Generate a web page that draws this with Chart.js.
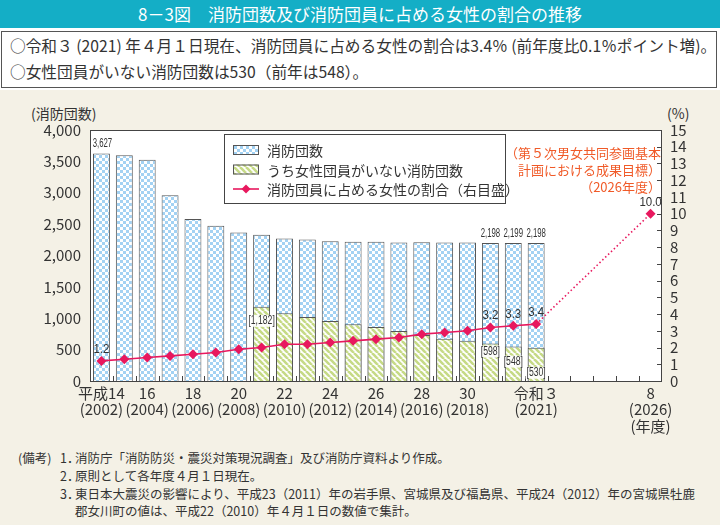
<!DOCTYPE html>
<html>
<head>
<meta charset="utf-8">
<script src="https://cdn.jsdelivr.net/npm/chart.js@4.4.1/dist/chart.umd.min.js"></script>
<style>
  body { margin:0; width:720px; height:525px; position:relative; overflow:hidden; background:#fff;
         font-family:"Noto Sans CJK JP","Noto Sans",sans-serif; color:#333; }
  #title { position:absolute; left:0; top:0; width:720px; height:28px; background:#14aec6; color:#fff;
           font-size:17px; line-height:28px; text-align:center; }
  #summary { position:absolute; left:1px; top:31px; width:716px; height:57px; background:#fff;
             border:1px solid #555; font-size:15.7px; line-height:26px; box-sizing:border-box; padding:1px 0 0 8px; white-space:nowrap; }
  #beige { position:absolute; left:0; top:90px; width:720px; height:435px; background:#f4f1e6; }
  #chartWrap { position:absolute; left:0; top:95px; width:720px; height:350px; }
  .axisTitle { position:absolute; font-size:14px; color:#333; }
  .note { position:absolute; font-size:12.5px; color:#333; white-space:nowrap; }
</style>
</head>
<body>
<div id="title">8－3図　消防団数及び消防団員に占める女性の割合の推移</div>
<div id="summary">○令和３ (2021) 年４月１日現在、消防団員に占める女性の割合は3.4％ (前年度比0.1％ポイント増)。<br>○女性団員がいない消防団数は530（前年は548）。</div>
<div id="beige"></div>
<div class="axisTitle" style="left:31px;top:103px;">(消防団数)</div>
<div class="axisTitle" style="left:667px;top:103px;">(%)</div>
<div id="chartWrap"><canvas id="chart" width="720" height="350"></canvas></div>
<div class="note" style="left:18px;top:448px;">(備考)</div>
<div class="note" style="left:60px;top:448px;">1．</div>
<div class="note" style="left:75px;top:448px;">消防庁「消防防災・震災対策現況調査」及び消防庁資料より作成。</div>
<div class="note" style="left:60px;top:466px;">2．</div>
<div class="note" style="left:75px;top:466px;">原則として各年度４月１日現在。</div>
<div class="note" style="left:60px;top:484px;">3．</div>
<div class="note" style="left:75px;top:484px;">東日本大震災の影響により、平成23（2011）年の岩手県、宮城県及び福島県、平成24（2012）年の宮城県牡鹿</div>
<div class="note" style="left:75px;top:501px;">郡女川町の値は、平成22（2010）年４月１日の数値で集計。</div>

<script>
// data
const years = ["2002","2003","2004","2005","2006","2007","2008","2009","2010","2011","2012","2013",
  "2014","2015","2016","2017","2018","2019","2020","2021","2022","2023","2024","2025","2026"];
const tickLabels = [["平成14","(2002)"], "", ["16","(2004)"], "", ["18","(2006)"], "", ["20","(2008)"], "",
  ["22","(2010)"], "", ["24","(2012)"], "", ["26","(2014)"], "", ["28","(2016)"], "", ["30","(2018)"], "", "",
  ["令和３","(2021)"], "", "", "", "", ["8","(2026)","(年度)"]];
const fireUnits = [3627, 3598, 3525, 2960, 2580, 2475, 2365, 2330, 2270, 2255, 2228, 2218,
  2221, 2208, 2211, 2209, 2209, 2198, 2199, 2198, null, null, null, null, null];
const noWomenUnits = [null, null, null, null, null, null, null, 1182, 1080, 1020, 955, 905,
  860, 795, 735, 675, 640, 598, 548, 530, null, null, null, null, null];
const womenRate = [1.2, 1.3, 1.4, 1.5, 1.6, 1.7, 1.9, 2.0, 2.2, 2.2, 2.3, 2.4,
  2.5, 2.6, 2.8, 2.9, 3.0, 3.2, 3.3, 3.4, null, null, null, null, 10.0];
const unitLabelIdx = [0, 17, 18, 19];
const noWomenLabelIdx = [7, 17, 18, 19];
const rateLabelIdx = [0, 17, 18, 19, 24];
const targetNote = ["（第５次男女共同参画基本", "計画における成果目標）", "（2026年度）"];

const PINK = "#e8185e";
const FONT = '"Noto Sans CJK JP", "Noto Sans", sans-serif';
const NUMFONT = '"Liberation Sans", "Noto Sans", sans-serif';

function checkerPattern() {
  const c = document.createElement("canvas");
  c.width = 6; c.height = 6;
  const g = c.getContext("2d");
  g.fillStyle = "#a3d2f3";
  g.fillRect(0, 0, 6, 6);
  g.fillStyle = "#ffffff";
  g.fillRect(0, 0, 3, 3);
  g.fillRect(3, 3, 3, 3);
  return g.createPattern(c, "repeat");
}

function stripePattern() {
  const c = document.createElement("canvas");
  c.width = 6; c.height = 6;
  const g = c.getContext("2d");
  g.fillStyle = "#ffffff";
  g.fillRect(0, 0, 6, 6);
  g.strokeStyle = "#c6da86";
  g.lineWidth = 2.6;
  for (let k = -12; k <= 12; k += 6) {
    g.beginPath();
    g.moveTo(k, 0);
    g.lineTo(k + 6, 6);
    g.stroke();
  }
  return g.createPattern(c, "repeat");
}

const checker = checkerPattern();
const stripes = stripePattern();

// condensed numbers, like the printed figure
function narrowText(ctx, text, x, y, sx, boxed) {
  const w = ctx.measureText(text).width * sx;
  if (boxed) {
    ctx.fillStyle = "rgba(255,255,255,0.92)";
    ctx.fillRect(x - w / 2 - 1, y - 6, w + 2, 12);
  }
  ctx.fillStyle = "#333";
  ctx.save();
  ctx.translate(x, y);
  ctx.scale(sx, 1);
  ctx.fillText(text, 0, 0);
  ctx.restore();
}

const extras = {
  id: "extras",
  beforeDatasetsDraw(chart) {
    const a = chart.chartArea, ctx = chart.ctx;
    ctx.save();
    ctx.fillStyle = "#fff";
    ctx.fillRect(a.left, a.top, a.right - a.left, a.bottom - a.top);
    ctx.restore();
  },
  afterDatasetsDraw(chart) {
    const a = chart.chartArea, ctx = chart.ctx;
    const y1 = chart.scales.y1;
    ctx.save();
    // frame and ticks
    ctx.strokeStyle = "#444";
    ctx.lineWidth = 1;
    ctx.strokeRect(a.left + 0.5, a.top + 0.5, a.right - a.left - 1, a.bottom - a.top);
    const step = (a.right - a.left) / years.length;
    ctx.beginPath();
    for (let i = 1; i < years.length; i++) {
      const x = Math.round(a.left + i * step) + 0.5;
      ctx.moveTo(x, a.bottom);
      ctx.lineTo(x, a.bottom - 5);
    }
    for (let v = 1; v <= 15; v++) {
      const y = Math.round(y1.getPixelForValue(v)) + 0.5;
      ctx.moveTo(a.right - 5, y);
      ctx.lineTo(a.right, y);
    }
    ctx.stroke();

    // value labels
    const lineMeta = chart.getDatasetMeta(0);
    const greenMeta = chart.getDatasetMeta(1);
    const blueMeta = chart.getDatasetMeta(2);
    ctx.textAlign = "center";
    ctx.textBaseline = "bottom";
    ctx.font = "13px " + NUMFONT;
    unitLabelIdx.forEach(i => {
      const el = blueMeta.data[i];
      narrowText(ctx, fireUnits[i].toLocaleString("en-US"), el.x + (i === 0 ? 1 : 0), el.y - 3, 0.6, false);
    });
    ctx.textBaseline = "middle";
    ctx.font = "12px " + NUMFONT;
    const drop = {7: 14, 17: 8, 18: 15, 19: 25};
    noWomenLabelIdx.forEach(i => {
      const el = greenMeta.data[i];
      narrowText(ctx, "[" + noWomenUnits[i].toLocaleString("en-US") + "]", el.x, el.y + drop[i], 0.72, true);
    });
    ctx.textBaseline = "bottom";
    ctx.font = "13.5px " + NUMFONT;
    rateLabelIdx.forEach(i => {
      const el = lineMeta.data[i];
      narrowText(ctx, womenRate[i].toFixed(1), el.x, el.y - 5, 0.85, false);
    });

    // target note
    ctx.textAlign = "right";
    ctx.textBaseline = "middle";
    ctx.fillStyle = "#f05a28";
    ctx.font = "13px " + FONT;
    targetNote.forEach((t, k) => ctx.fillText(t, a.right - 1, 58 + k * 17));

    // legend
    const lx = 224, ly = 39, lw = 281, lh = 69;
    ctx.fillStyle = "#fff";
    ctx.fillRect(lx, ly, lw, lh);
    ctx.strokeStyle = "#444";
    ctx.strokeRect(lx + 0.5, ly + 0.5, lw, lh);
    const rows = [
      {text: "消防団数", fill: checker},
      {text: "うち女性団員がいない消防団数", fill: stripes},
      {text: "消防団員に占める女性の割合（右目盛）", line: true}
    ];
    ctx.font = "14px " + FONT;
    ctx.textAlign = "left";
    rows.forEach((r, k) => {
      const cy = ly + 16 + k * 19.5;
      if (r.line) {
        ctx.strokeStyle = PINK;
        ctx.lineWidth = 1.6;
        ctx.beginPath();
        ctx.moveTo(lx + 9, cy);
        ctx.lineTo(lx + 35, cy);
        ctx.stroke();
        ctx.fillStyle = PINK;
        ctx.beginPath();
        ctx.moveTo(lx + 22, cy - 4.5);
        ctx.lineTo(lx + 26.5, cy);
        ctx.lineTo(lx + 22, cy + 4.5);
        ctx.lineTo(lx + 17.5, cy);
        ctx.closePath();
        ctx.fill();
      } else {
        ctx.fillStyle = r.fill;
        ctx.fillRect(lx + 9, cy - 5, 26, 10);
        ctx.strokeStyle = "#555";
        ctx.lineWidth = 1;
        ctx.strokeRect(lx + 9.5, cy - 4.5, 25, 9);
      }
      ctx.fillStyle = "#333";
      ctx.fillText(r.text, lx + 43, cy + 1);
    });
    ctx.restore();
  }
};

new Chart(document.getElementById("chart").getContext("2d"), {
  type: "bar",
  data: {
    labels: years,
    datasets: [
      {
        type: "line",
        label: "消防団員に占める女性の割合（右目盛）",
        data: womenRate,
        yAxisID: "y1",
        borderColor: PINK,
        backgroundColor: PINK,
        borderWidth: 1.6,
        pointStyle: "rectRot",
        pointRadius: 5,
        pointBorderWidth: 0,
        spanGaps: true,
        // the jump to the 2026 target is dotted
        segment: { borderDash: c => (c.p1DataIndex > 19 ? [1.5, 2.5] : undefined) },
        order: 0
      },
      {
        label: "うち女性団員がいない消防団数",
        data: noWomenUnits,
        yAxisID: "y",
        backgroundColor: stripes,
        borderColor: "#555",
        borderWidth: 1,
        grouped: false,
        barPercentage: 0.74,
        categoryPercentage: 1,
        order: 1
      },
      {
        label: "消防団数",
        data: fireUnits,
        yAxisID: "y",
        backgroundColor: checker,
        borderColor: "#555",
        borderWidth: 1,
        grouped: false,
        barPercentage: 0.74,
        categoryPercentage: 1,
        order: 2
      }
    ]
  },
  options: {
    responsive: false,
    animation: false,
    layout: { padding: { top: 35, left: 0, right: 0, bottom: 0 } },
    plugins: { legend: { display: false }, tooltip: { enabled: false } },
    scales: {
      x: {
        grid: { display: false, drawTicks: false },
        border: { display: false },
        ticks: {
          autoSkip: false, maxRotation: 0, padding: 4, color: "#333",
          font: { family: FONT, size: 15, lineHeight: 1.1 },
          callback: (v, i) => tickLabels[i]
        },
        afterFit: s => { s.height = 64; }
      },
      y: {
        position: "left", min: 0, max: 4000,
        grid: { display: false, drawTicks: false },
        border: { display: false },
        ticks: {
          stepSize: 500, padding: 9, color: "#333", autoSkip: false,
          font: { family: FONT, size: 15 },
          callback: v => v.toLocaleString("en-US")
        },
        afterFit: s => { s.width = 90; }
      },
      y1: {
        position: "right", min: 0, max: 15,
        grid: { display: false, drawTicks: false },
        border: { display: false },
        ticks: { stepSize: 1, padding: 8, color: "#333", autoSkip: false, font: { family: FONT, size: 15 } },
        afterFit: s => { s.width = 58; }
      }
    }
  },
  plugins: [extras]
});
</script>
</body>
</html>
